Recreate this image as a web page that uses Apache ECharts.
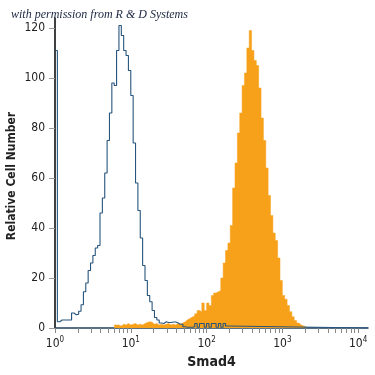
<!DOCTYPE html>
<html>
<head>
<meta charset="utf-8">
<script src="https://cdn.jsdelivr.net/npm/echarts@6/dist/echarts.min.js"></script>
<style>
html,body{margin:0;padding:0;background:#fff;}
#chart{width:375px;height:375px;}
</style>
</head>
<body>
<div id="chart"></div>
<script>
// ---- data ----
const channelsPerDecade = 32;
const xMaxLog = 4.13;
const yTicks = [0, 20, 40, 60, 80, 100, 120];
const xDecades = [0, 1, 2, 3, 4];

// isotype control (blue outline), channels starting at 0
const blueCounts = [111, 2.5, 3.2, 3.2, 3.2, 3.2, 3.2, 6, 5.3, 5.5,
  6.7, 9.3, 14.5, 18, 23, 26, 29, 32, 33, 46,
  52, 62, 75, 86, 98, 97, 111, 121, 117, 111,
  109, 103, 93, 74, 58, 47, 36, 25, 19, 13,
  10.5, 7, 4.2, 3.2, 2, 1.8, 2.5, 2.2, 2.2, 2.4,
  2.4, 2, 1.5, 1.5, 0.5, 0.3, 0.3, 0.3, 0.5, 1.8,
  0.3, 1.8, 1.8, 0.3, 1.8, 0.3, 1.8, 1.8, 0.3, 1.8,
  0.3, 1.8, 0.8];

// Smad4 stained (orange filled), channels starting at orangeStartChannel
const orangeStartChannel = 25;
const orangeCounts = [1.2, 1.2, 0.8, 1.5, 1.2, 1.8, 1.2, 1.5, 1.8, 1.2,
  1.5, 1.2, 1.8, 2.2, 2.5, 2.3, 1.5, 1.8, 1.2, 1.5,
  1.2, 1.5, 1.8, 1.2, 1.5, 1.2, 1.8, 1.5, 2, 2.5,
  3.3, 3.8, 4.4, 4.8, 5.7, 7, 6.5, 10, 7, 10,
  9, 13, 14, 14.5, 15, 20, 26, 31, 34, 41,
  56, 66, 78, 86, 97, 102, 112, 119, 111, 107,
  105, 96, 84, 75, 64, 53, 45, 38, 35, 28,
  19, 13, 11.5, 9, 6.5, 4.5, 3, 2, 1.2, 0.8,
  0.5];

// ---- build series data ----
const blueData = blueCounts.map((v, i) => [i / channelsPerDecade, v]);
blueData.push([blueCounts.length / channelsPerDecade, 0]);
blueData.push([xMaxLog, 0]);

const orangeData = orangeCounts.map((v, i) => [(orangeStartChannel + i) / channelsPerDecade, v]);
orangeData.push([(orangeStartChannel + orangeCounts.length) / channelsPerDecade, 0]);

// log minor tick positions
const xTickValues = [];
xDecades.forEach(d => {
  for (let m = 1; m <= 9; m++) {
    const v = d + Math.log10(m);
    if (v <= xMaxLog) xTickValues.push(v);
  }
});

const FONT = '"Liberation Sans Narrow", "DejaVu Sans Condensed", "Roboto", sans-serif';

const chart = echarts.init(document.getElementById('chart'), null, {renderer: 'canvas'});
chart.setOption({
  animation: false,
  backgroundColor: '#ffffff',
  grid: {left: 55, right: 7, top: 18, bottom: 47, containLabel: false, outerBoundsMode: 'none'},
  xAxis: {
    type: 'value',
    min: 0,
    max: xMaxLog,
    name: 'Smad4',
    nameLocation: 'middle',
    nameGap: 27,
    nameTextStyle: {fontFamily: FONT, fontWeight: 'bold', fontSize: 14, color: '#222'},
    axisLine: {show: true, lineStyle: {color: '#23415c', width: 1.5}},
    axisTick: {show: true, inside: false, length: 5, customValues: xTickValues, lineStyle: {color: '#888', width: 1}},
    axisLabel: {
      customValues: xDecades,
      margin: 8,
      formatter: v => '{b|10}{s|' + Math.round(v) + '}',
      rich: {
        b: {fontFamily: FONT, fontSize: 12, color: '#222', verticalAlign: 'bottom'},
        s: {fontFamily: FONT, fontSize: 8, color: '#222', verticalAlign: 'top', padding: [0, 0, 6, 0]}
      }
    },
    splitLine: {show: false}
  },
  yAxis: {
    type: 'value',
    min: 0,
    max: 124,
    axisLine: {show: true, lineStyle: {color: '#000', width: 1.5}},
    axisTick: {show: true, length: 6, customValues: yTicks, lineStyle: {color: '#999', width: 1}},
    axisLabel: {customValues: yTicks, margin: 10, fontFamily: FONT, fontSize: 12, color: '#222'},
    splitLine: {show: false}
  },
  graphic: [{
    type: 'text',
    left: 11,
    top: 9,
    style: {
      text: 'with permission from R & D Systems',
      font: 'italic 12px "Liberation Serif", "DejaVu Serif", serif',
      fill: '#1a2540'
    }
  }, {
    type: 'text',
    x: 12,
    y: 176,
    rotation: Math.PI / 2,
    style: {
      text: 'Relative Cell Number',
      font: 'bold 12px ' + FONT,
      fill: '#222',
      align: 'center',
      verticalAlign: 'middle'
    }
  }],
  series: [
    {
      type: 'line',
      step: 'end',
      data: orangeData,
      symbol: 'none',
      lineStyle: {width: 0.5, color: '#f7a11a'},
      areaStyle: {color: '#f7a11a', opacity: 1},
      z: 2
    },
    {
      type: 'line',
      step: 'end',
      data: blueData,
      symbol: 'none',
      lineStyle: {width: 1.1, color: '#27557e'},
      z: 3
    }
  ]
});
</script>
</body>
</html>
